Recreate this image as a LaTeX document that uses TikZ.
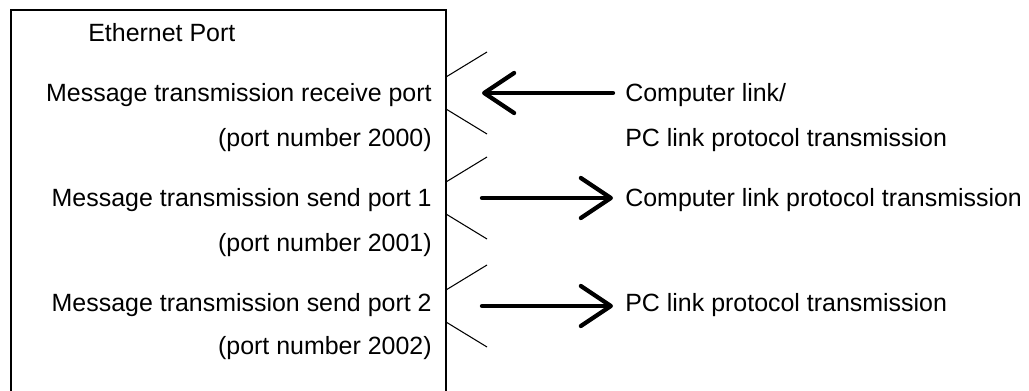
\documentclass[tikz,border=0pt]{standalone}
\usepackage{fontspec}
\setmainfont{Liberation Sans}
\usetikzlibrary{arrows.meta}

\tikzset{
	lbl/.style={inner sep=0pt, font=\fontsize{14.2}{17}\selectfont},
	porttxt/.style={lbl, anchor=base east},
	prototxt/.style={lbl, anchor=base west, inner xsep=0.24cm},
	sig/.style={line width=0.085cm, line cap=round, line join=round,
		-{Straight Barb[length=0.6cm, width=0.8cm, line cap=round, line join=round]}},
	slant/.style={line width=0.6pt}
}

\begin{document}
\begin{tikzpicture}[x=0.02cm, y=-0.02cm]
\useasboundingbox (0,0) rectangle (1029,391);

% open box of the ethernet port
\draw[line width=0.85pt] (11,395) -- (11,10) -- (446,10) -- (446,395);

\node[lbl, anchor=base west] (eth) at (88,42) {Ethernet Port};

% left side texts
\node[porttxt] (rx) at (432,102) {Message transmission receive port};
\node[porttxt] (rxnum) at (432,147) {(port number 2000)};
\node[porttxt] (tx1) at (432,207) {Message transmission send port 1};
\node[porttxt] (tx1num) at (432,252) {(port number 2001)};
\node[porttxt] (tx2) at (432,312) {Message transmission send port 2};
\node[porttxt] (tx2num) at (432,355) {(port number 2002)};

% right side texts
\node[prototxt] (cl) at (613,102) {Computer link/};
\node[prototxt] (pc) at (613,147) {PC link protocol transmission};
\node[prototxt] (clproto) at (613,207) {Computer link protocol transmission};
\node[prototxt] (pcproto) at (613,312) {PC link protocol transmission};

% port openings
\foreach \y in {93,198,306}{
	\draw[slant] (446,\y-16) -- (487,\y-41);
	\draw[slant] (446,\y+16) -- (487,\y+41);
}

\coordinate (rxin) at (482,93);
\coordinate (tx1out) at (482,198);
\coordinate (tx2out) at (482,306);

\draw[sig] (cl.west |- rxin) -- (rxin);
\draw[sig] (tx1out) -- (clproto.west |- tx1out);
\draw[sig] (tx2out) -- (pcproto.west |- tx2out);
\end{tikzpicture}
\end{document}
